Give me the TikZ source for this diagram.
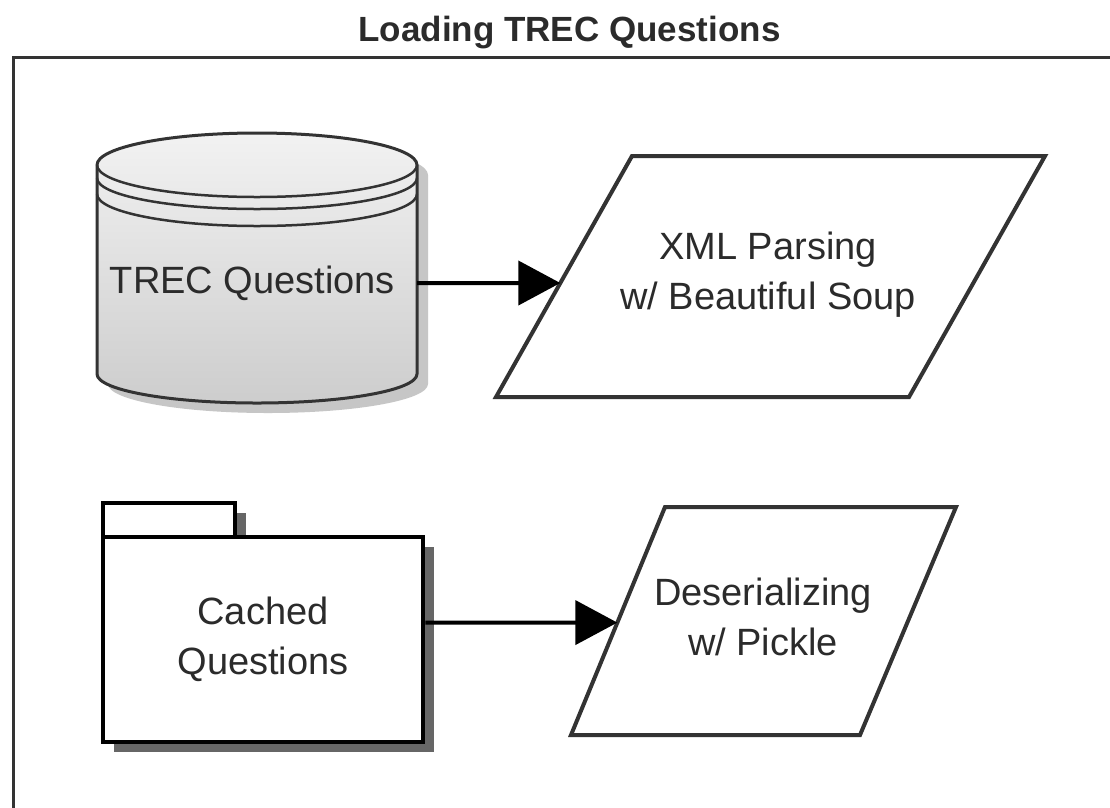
\documentclass[tikz,border=0pt]{standalone}
\usepackage{fontspec}
\setmainfont{Liberation Sans}
\usetikzlibrary{arrows.meta,calc}
\definecolor{ink}{HTML}{333333}
\definecolor{txt}{HTML}{2B2B2B}
\definecolor{cyltop}{HTML}{F2F2F2}
\definecolor{cylbot}{HTML}{CDCDCD}
\definecolor{softshadow}{HTML}{B8B8B8}
\definecolor{hardshadow}{HTML}{666666}

\begin{document}
\begin{tikzpicture}[x=1pt,y=-1pt,
  lbl/.style={font=\fontsize{38}{50}\selectfont, text=txt, align=center, inner sep=0pt},
  outline/.style={draw=ink, line width=4pt, line join=miter},
  flow/.style={line width=4pt, -{Triangle[length=42pt,width=44pt]}},
]
\useasboundingbox (0,0) rectangle (1110,807);
\clip (0,0) rectangle (1110,807);
\fill[white] (0,0) rectangle (1110,807);

% title and surrounding frame
\node[font=\fontsize{35}{42}\selectfont\bfseries, text=txt, anchor=base, inner sep=0pt] (title) at (569.5,41) {Loading TREC Questions};
\draw[ink, line width=3pt] (13,830) -- (13,57) -- (1130,57);

% database cylinder: soft shadow
\begin{scope}[shift={(11,10)}]
  \fill[softshadow, opacity=0.8] (97,165) -- (97,374) arc[start angle=180,end angle=360,x radius=160pt,y radius=29pt] -- (417,165) arc[start angle=0,end angle=180,x radius=160pt,y radius=32pt] -- cycle;
\end{scope}
% cylinder body
\path[draw=ink, line width=3pt, top color=cyltop, bottom color=cylbot]
  (97,165) -- (97,374) arc[start angle=180,end angle=360,x radius=160pt,y radius=29pt] -- (417,165) arc[start angle=0,end angle=180,x radius=160pt,y radius=32pt] -- cycle;
% rim lines
\draw[ink, line width=2.5pt] (97,165) arc[start angle=180,end angle=360,x radius=160pt,y radius=32pt];
\draw[ink, line width=2.5pt] (97,178) arc[start angle=180,end angle=360,x radius=160pt,y radius=31pt];
\draw[ink, line width=2.5pt] (97,194) arc[start angle=180,end angle=360,x radius=160pt,y radius=32pt];
\node[lbl] (trec) at (252.5,283) {TREC Questions};
\coordinate (trecout) at (417,283);

% XML parsing step
\coordinate (p1tl) at (632,156);
\coordinate (p1tr) at (1045,156);
\coordinate (p1br) at (909,397);
\coordinate (p1bl) at (496,397);
\draw[outline, fill=white] (p1tl) -- (p1tr) -- (p1br) -- (p1bl) -- cycle;
\node[lbl] (xml) at (768,275) {XML Parsing\\w/ Beautiful Soup};
\coordinate (p1in) at ($(p1bl)!0.473!(p1tl)$);
\draw[flow] (trecout) -- (p1in);

% cache folder: shadow, tab and body
\fill[hardshadow] (114,513) rectangle (246,547);
\fill[hardshadow] (114,547) rectangle (434,752);
\draw[black, line width=4.5pt, fill=white] (103,503) rectangle (235,537);
\node[lbl, draw=black, line width=4.5pt, fill=white, minimum width=320pt, minimum height=205pt] (cached) at (263,639.5) {Cached\\Questions};
\coordinate (cachedout) at ($(cached.east)+(0,-17)$);

% deserializing step
\coordinate (p2tl) at (665,507);
\coordinate (p2tr) at (956,507);
\coordinate (p2br) at (860,735);
\coordinate (p2bl) at (571,735);
\draw[outline, fill=white] (p2tl) -- (p2tr) -- (p2br) -- (p2bl) -- cycle;
\node[lbl] (deser) at (763,617) {Deserializing\\w/ Pickle};
\coordinate (p2in) at ($(p2bl)!0.493!(p2tl)$);
\draw[flow] (cachedout) -- (p2in);
\end{tikzpicture}
\end{document}
